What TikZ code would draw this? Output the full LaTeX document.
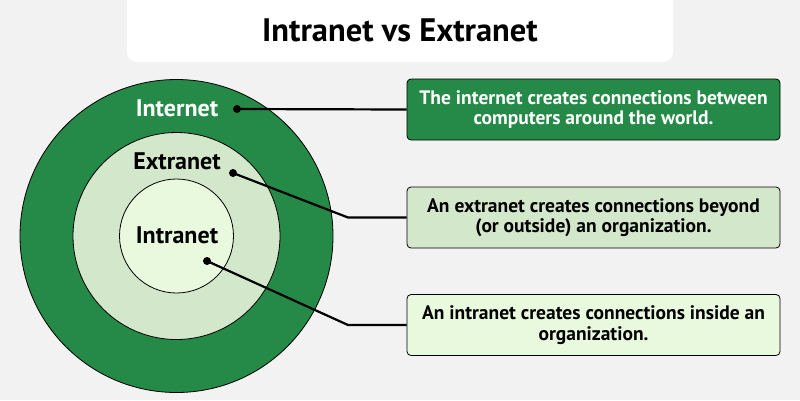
\documentclass[tikz,border=0pt]{standalone}
\usepackage{fontspec}
\setmainfont{PT Sans}
\usetikzlibrary{positioning}
\definecolor{netgreen}{HTML}{258A47}
\definecolor{extragreen}{HTML}{D3E8CB}
\definecolor{intragreen}{HTML}{E8F9DE}
\definecolor{backgray}{HTML}{F2F2F2}

\begin{document}
\begin{tikzpicture}[x=1pt, y=-1pt,
    ring/.style={circle, draw=black, line width=0.8pt, inner sep=0pt},
    ringtext/.style={font=\fontsize{24}{26}\selectfont\bfseries},
    info/.style={draw=black, rounded corners=4pt, line width=0.8pt, minimum width=373pt, minimum height=61pt, align=center, font=\fontsize{19.5}{20.5}\selectfont\bfseries},
    dot/.style={circle, fill=black, inner sep=0pt, minimum size=8pt},
    link/.style={line width=2.2pt}]
% background and title
\fill[backgray] (0,0) rectangle (800,400);
\useasboundingbox (0,0) rectangle (800,400);
\fill[white, rounded corners=10pt] (127,-12) rectangle (673,62);
\node (title) at (400,30) {\fontsize{32.5}{34}\selectfont\bfseries Intranet vs Extranet};

% rings
\node [ring, fill=netgreen, minimum size=313pt] (internet) at (176.5,236) {};
\node [ring, fill=extragreen, minimum size=207pt] (extranet) at (176.5,236) {};
\node [ring, fill=intragreen, minimum size=114pt] (intranet) at (176.5,236) {};

\node [ringtext, text=white] (lblinternet) at (177,108) {Internet};
\node [ringtext] (lblextranet) at (177,161) {Extranet};
\node [ringtext] (lblintranet) at (177,235) {Intranet};

\node [dot] (dotinternet) at (237,109) {};
\node [dot] (dotextranet) at (233,173) {};
\node [dot] (dotintranet) at (207,261) {};

% info boxes
\node [info, fill=netgreen, text=white] (boxinternet) at (593.5,109.5) {The internet creates connections between\\computers around the world.};
\node [info, fill=extragreen] (boxextranet) at (593.5,217.5) {An extranet creates connections beyond\\(or outside) an organization.};
\node [info, fill=intragreen] (boxintranet) at (593.5,325) {An intranet creates connections inside an\\organization.};

\coordinate (bendextranet) at (348,217.5);
\coordinate (bendintranet) at (348,325);

% connectors
\draw [link] (dotinternet.center) -- (boxinternet.west);
\draw [link] (dotextranet.center) -- (bendextranet) -- (boxextranet.west);
\draw [link] (dotintranet.center) -- (bendintranet) -- (boxintranet.west);
\end{tikzpicture}
\end{document}
